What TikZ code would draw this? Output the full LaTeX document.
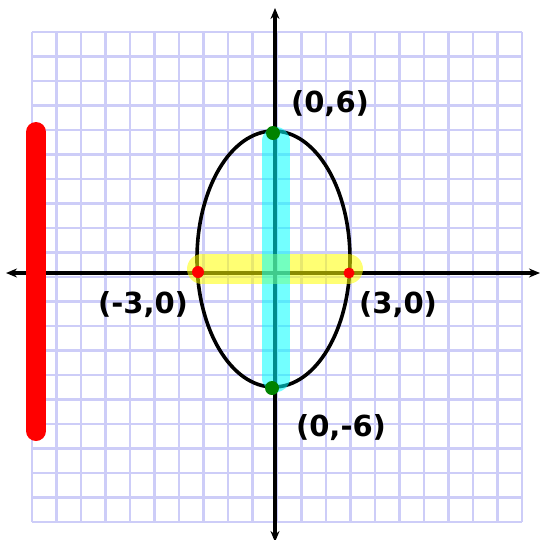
\documentclass[tikz,border=0pt]{standalone}
\usepackage{fontspec}
\setmainfont{DejaVu Sans}
\usepackage{xcolor}
\usetikzlibrary{arrows.meta, positioning, calc}
\definecolor{gridblue}{RGB}{205,205,248}
\definecolor{hiyellow}{RGB}{255,255,0}
\definecolor{hicyan}{RGB}{0,255,255}
\definecolor{hired}{RGB}{255,0,0}
\definecolor{ptgreen}{RGB}{0,130,0}

\begin{document}
\begin{tikzpicture}[x=1pt, y=-1pt,
    gridline/.style={draw=gridblue, line width=2.4pt},
    axis/.style={line width=3.2pt, {Stealth[length=11pt,width=9pt]}-{Stealth[length=11pt,width=9pt]}},
    marker/.style={line width=#1, line cap=round},
    dot/.style={circle, fill=#1, minimum size=14pt, inner sep=0pt},
    lbl/.style={font=\bfseries\fontsize{29}{32}\selectfont, inner sep=0pt}]
    \useasboundingbox (0,0) rectangle (541,539);
    \foreach \i in {0,...,20} {
        \draw[gridline] ({32+24.5*\i},32) -- ({32+24.5*\i},522);
        \draw[gridline] (32,{32+24.5*\i}) -- (522,{32+24.5*\i});
    }
    \coordinate (left) at (6,273);
    \coordinate (right) at (540,273);
    \coordinate (top) at (275,8);
    \coordinate (bottom) at (275,542);
    \draw[axis] (left) -- (right);
    \draw[axis] (top) -- (bottom);
    \draw[line width=3.6pt] (273.5,259) ellipse [x radius=76.5, y radius=128];
    % highlighted axes
    \draw[marker=20pt, hired] (36,132) -- (36,431);
    \draw[marker=30pt, hiyellow, opacity=0.55] (202,269) -- (348,269);
    \draw[marker=28pt, hicyan, opacity=0.55] (276,141) -- (276,378);
    \node[dot=hired, minimum size=12pt] (vl) at (198,272) {};
    \node[dot=hired, minimum size=11pt] (vr) at (349,273) {};
    \node[dot=ptgreen] (vt) at (273,133) {};
    \node[dot=ptgreen] (vb) at (272,388) {};
    \node[lbl] (ltop) at (330,104) {(0,6)};
    \node[lbl] (lleft) at (143,305) {(-3,0)};
    \node[lbl] (lright) at (398,305) {(3,0)};
    \node[lbl] (lbot) at (341,428) {(0,-6)};
\end{tikzpicture}
\end{document}
